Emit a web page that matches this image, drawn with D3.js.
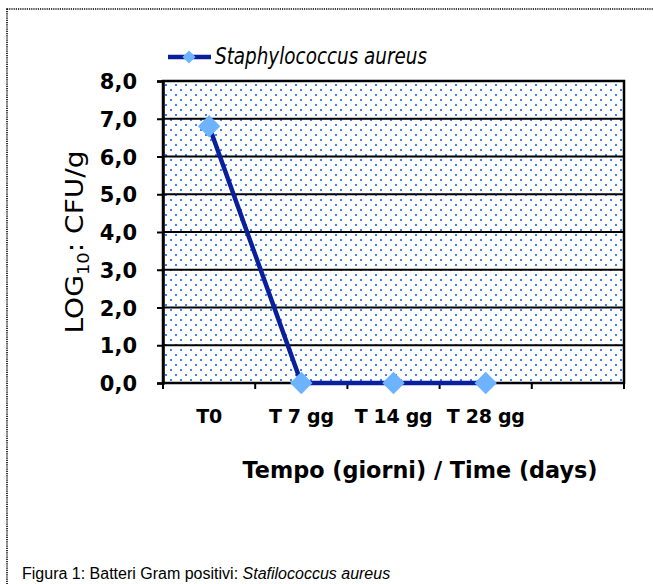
<!DOCTYPE html>
<html><head><meta charset="utf-8">
<script src="https://cdn.jsdelivr.net/npm/d3@7/dist/d3.min.js"></script>
<style>html,body{margin:0;padding:0;background:#fff;}svg{display:block;}</style>
</head><body>
<script>
const categories = ["T0", "T 7 gg", "T 14 gg", "T 28 gg", ""];
const seriesName = "Staphylococcus aureus";
const values = [6.8, 0.0, 0.0, 0.0];
const yTicks = [0, 1, 2, 3, 4, 5, 6, 7, 8];
const yTickLabels = ["0,0", "1,0", "2,0", "3,0", "4,0", "5,0", "6,0", "7,0", "8,0"];
const xTitle = "Tempo (giorni) / Time (days)";
const caption = "Figura 1: Batteri Gram positivi: ";
const captionItalic = "Stafilococcus aureus";

const W = 653, H = 584;
const svg = d3.select("body").append("svg").attr("width", W).attr("height", H);
const font = "'DejaVu Sans', sans-serif";

// outer dotted frame
svg.append("rect").attr("x", 7).attr("y", 9).attr("width", 660).attr("height", 600)
  .attr("fill", "none").attr("stroke", "#000").attr("stroke-width", 1.6).attr("stroke-dasharray", "1.2,1");

const defs = svg.append("defs");
const pat = defs.append("pattern").attr("id", "dots").attr("patternUnits", "userSpaceOnUse")
  .attr("width", 10).attr("height", 10).attr("x", 165).attr("y", 84);
pat.append("rect").attr("width", 10).attr("height", 10).attr("fill", "#fff");
pat.append("rect").attr("x", 0).attr("y", 0).attr("width", 2).attr("height", 2).attr("fill", "#3f80ff");
pat.append("rect").attr("x", 5).attr("y", 5).attr("width", 2).attr("height", 2).attr("fill", "#3f80ff");

const x = d3.scaleBand().domain(categories).range([163, 624]);
const y = d3.scaleLinear().domain([0, 8]).range([383, 81]);

// plot area background
svg.append("rect").attr("x", x.range()[0]).attr("y", y(8)).attr("width", x.range()[1] - x.range()[0])
  .attr("height", y(0) - y(8)).attr("fill", "url(#dots)");

// gridlines
svg.append("g").selectAll("line").data(yTicks).join("line")
  .attr("x1", x.range()[0]).attr("x2", x.range()[1]).attr("y1", d => y(d)).attr("y2", d => y(d))
  .attr("stroke", "#000").attr("stroke-width", 2);

// plot border
svg.append("rect").attr("x", x.range()[0]).attr("y", y(8)).attr("width", x.range()[1] - x.range()[0])
  .attr("height", y(0) - y(8)).attr("fill", "none").attr("stroke", "#000").attr("stroke-width", 2.5);

// y axis
const yAxis = d3.axisLeft(y).tickValues(yTicks).tickSize(6).tickPadding(20)
  .tickFormat((d, i) => yTickLabels[i]);
const gy = svg.append("g").attr("transform", `translate(${x.range()[0]},0)`).call(yAxis);
gy.select(".domain").attr("stroke", "#000").attr("stroke-width", 2.5);
gy.selectAll(".tick line").attr("stroke", "#000").attr("stroke-width", 2);
gy.selectAll(".tick text").attr("font-family", font).attr("font-weight", "bold")
  .attr("font-size", 21).attr("fill", "#000").attr("dy", "0.36em");

// x axis: ticks at band boundaries
const bounds = categories.map(c => x(c)).concat([x.range()[1]]);
svg.append("g").selectAll("line").data(bounds).join("line")
  .attr("x1", d => d).attr("x2", d => d).attr("y1", y(0)).attr("y2", y(0) + 6)
  .attr("stroke", "#000").attr("stroke-width", 2);
svg.append("g").selectAll("text").data(categories).join("text")
  .attr("x", d => x(d) + x.bandwidth() / 2).attr("y", 423)
  .attr("text-anchor", "middle").attr("font-family", font).attr("font-weight", "bold")
  .attr("font-size", 19).attr("letter-spacing", -0.3).text(d => d);

// x title
svg.append("text").attr("x", 420).attr("y", 478).attr("text-anchor", "middle")
  .attr("font-family", font).attr("font-weight", "bold").attr("font-size", 23)
  .attr("textLength", 355).attr("lengthAdjust", "spacingAndGlyphs").text(xTitle);

// y title
const yt = svg.append("text").attr("transform", "translate(83,242) rotate(-90)")
  .attr("text-anchor", "middle").attr("font-family", font).attr("font-size", 25)
  .attr("textLength", 183).attr("lengthAdjust", "spacingAndGlyphs");
yt.append("tspan").text("LOG");
yt.append("tspan").attr("font-size", 16).attr("dy", 6).text("10");
yt.append("tspan").attr("dy", -6).text(": CFU/g");

// line
const pts = values.map((v, i) => [x(categories[i]) + x.bandwidth() / 2, y(v)]);
svg.append("path").attr("d", d3.line()(pts)).attr("fill", "none")
  .attr("stroke", "#0a1f9c").attr("stroke-width", 4.5).attr("stroke-linejoin", "round");
const diamond = d3.symbol().type(d3.symbolDiamond2).size(320);
svg.append("g").selectAll("path").data(pts).join("path")
  .attr("transform", d => `translate(${d[0]},${d[1]})`).attr("d", diamond).attr("fill", "#6db3ff");

// legend
svg.append("line").attr("x1", 168).attr("x2", 211).attr("y1", 57).attr("y2", 57)
  .attr("stroke", "#0a1f9c").attr("stroke-width", 4.5);
svg.append("path").attr("transform", "translate(189,57)").attr("d", d3.symbol().type(d3.symbolDiamond2).size(110)())
  .attr("fill", "#6db3ff");
svg.append("text").attr("x", 215).attr("y", 64).attr("font-family", font).attr("font-style", "italic")
  .attr("font-size", 23).attr("textLength", 212).attr("lengthAdjust", "spacingAndGlyphs").text(seriesName);

// caption
const cap = svg.append("text").attr("x", 22).attr("y", 579).attr("font-family", "'Liberation Sans', Arial, sans-serif")
  .attr("font-size", 16);
cap.append("tspan").text(caption);
cap.append("tspan").attr("font-style", "italic").text(captionItalic);
</script>
</body></html>
